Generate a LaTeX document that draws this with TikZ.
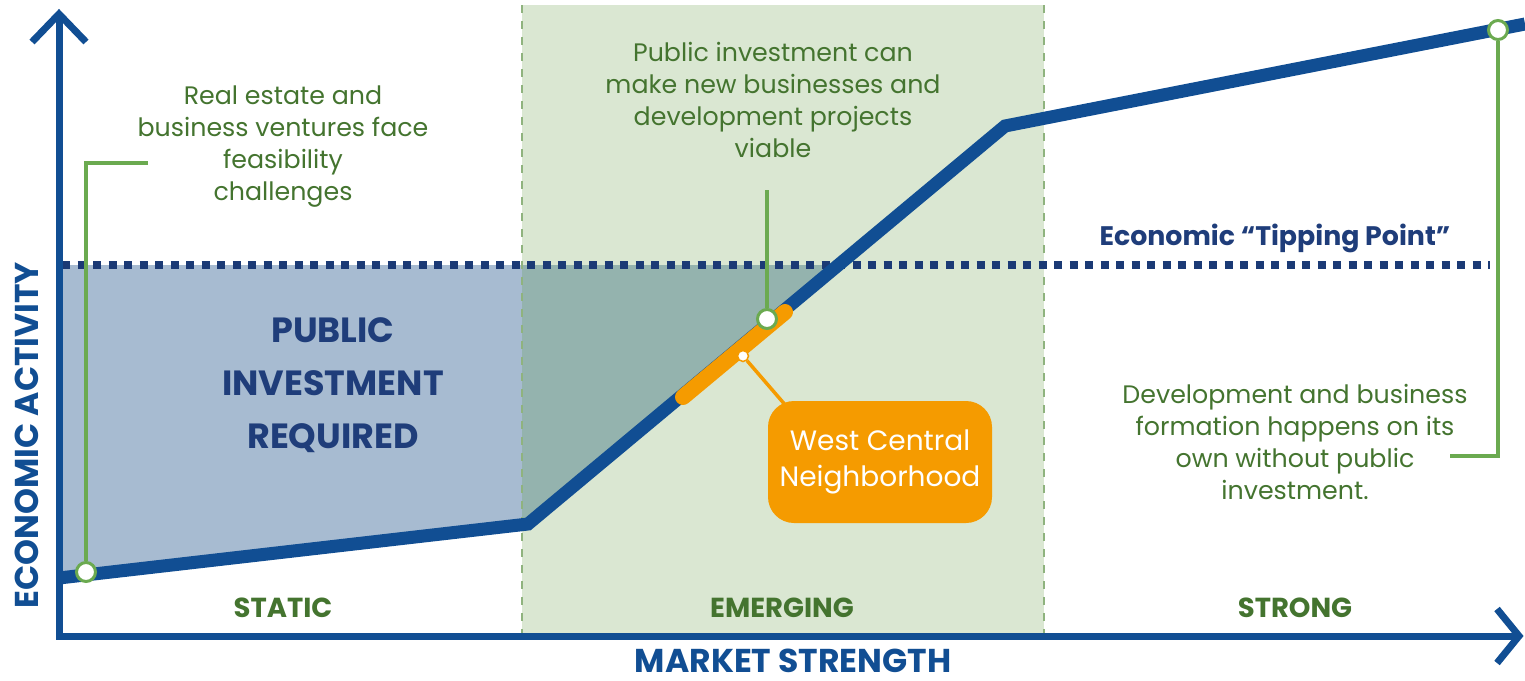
\documentclass[tikz,border=0pt]{standalone}
\usepackage{fontspec}
\setmainfont{Poppins}
\usetikzlibrary{calc}

\definecolor{axisblue}{HTML}{114E93}
\definecolor{navy}{HTML}{1F3D7A}
\definecolor{dotnavy}{HTML}{1B3A75}
\definecolor{darkgreen}{HTML}{44742F}
\definecolor{linkgreen}{HTML}{6BAA50}
\definecolor{zonegreen}{HTML}{DAE7D2}
\definecolor{zoneedge}{HTML}{8FB37E}
\definecolor{shadeblue}{HTML}{A7BBD1}
\definecolor{shadeteal}{HTML}{94B3AE}
\definecolor{hoodorange}{HTML}{F59B00}

\tikzset{
  axisline/.style={draw=axisblue, line width=7pt, line join=miter},
  curveline/.style={draw=axisblue, line width=13pt, line join=miter},
  zoneedge/.style={draw=zoneedge, line width=1.5pt, dash pattern=on 8pt off 8pt},
  tipline/.style={draw=dotnavy, line width=8pt, dash pattern=on 8pt off 7.5pt},
  link/.style={draw=linkgreen, line width=4pt},
  dotmark/.style={circle, draw=linkgreen, line width=3pt, fill=white, minimum size=19pt, inner sep=0pt},
  calloutnote/.style={text=darkgreen, align=center, font=\fontsize{25.3}{32}\selectfont},
  zonelabel/.style={text=darkgreen, font=\bfseries\fontsize{27.5}{30}\selectfont},
  axislabel/.style={text=axisblue, font=\bfseries\fontsize{33}{36}\selectfont, inner sep=1pt},
}

\begin{document}
\begin{tikzpicture}[x=1pt,y=-1pt]
\useasboundingbox (0,0) rectangle (1525,680);

% emerging market band
\fill[zonegreen] (522,5) rectangle (1044,636);

% curve corners
\coordinate (c0) at (59,578);
\coordinate (c1) at (528,524);
\coordinate (c2) at (1005,126);
\coordinate (c3) at (1525,24);
\coordinate (tipL) at (59,265);
\coordinate (tipX) at (838.4,265);

% area below the tipping point and above the curve
\fill[shadeblue] (tipL) -- (tipX) -- (c1) -- (c0) -- cycle;
\begin{scope}
  \clip (522,5) rectangle (1044,636);
  \fill[shadeteal] (tipL) -- (tipX) -- (c1) -- (c0) -- cycle;
\end{scope}

% band borders
\draw[zoneedge] (522,5) -- (522,636);
\draw[zoneedge] (1044,5) -- (1044,636);

% tipping point line
\coordinate (tipA) at (62,265);
\coordinate (tipB) at (1490,265);
\draw[tipline] (tipA) -- (tipB);
\node[text=navy, font=\bfseries\fontsize{26.8}{30}\selectfont] (tiplabel) at (1275,238) {Economic “Tipping Point”};

% market curve
\draw[curveline] (c0) -- (c1) -- (c2) -- (c3);

% axes
\coordinate (ytop) at (59,14);
\coordinate (origin) at (59,636);
\coordinate (xend) at (1519,636);
\draw[axisline] (ytop) -- (origin) -- (xend);
\draw[axisline] (32,42) -- (ytop) -- (86,42);
\draw[axisline] (1497,609) -- (xend) -- (1497,663);

\node[axislabel, rotate=90] (ylabel) at (27,435) {ECONOMIC ACTIVITY};
\node[axislabel] (xlabel) at (793,661) {MARKET STRENGTH};

% zone names
\node[zonelabel] (static) at (283,608) {STATIC};
\node[zonelabel] (emerging) at (782,608) {EMERGING};
\node[zonelabel] (strong) at (1295,608) {STRONG};

\node[text=navy, align=center, font=\bfseries\fontsize{35}{53}\selectfont] (pir) at (333,385) {PUBLIC\\INVESTMENT\\REQUIRED};

% West Central marker
\coordinate (hoodA) at (683,397);
\coordinate (hoodB) at (785,312);
\draw[hoodorange, line width=16pt, line cap=round] (hoodA) -- (hoodB);
\node[fill=hoodorange, rounded corners=26pt, minimum width=224pt, minimum height=122pt, text=white, align=center, font=\fontsize{28}{36}\selectfont] (hood) at (880,462) {West Central\\Neighborhood};
\node[circle, fill=white, draw=hoodorange, line width=1.5pt, minimum size=11pt, inner sep=0pt] (hooddot) at (743,356) {};
\coordinate (hoodtip) at (787,407);
\draw[hoodorange, line width=3.5pt] (hooddot) -- (hoodtip);

% callout: static zone
\node[calloutnote] (noteL) at (283,147) {Real estate and\\business ventures face\\feasibility\\challenges};
\node[dotmark] (dotL) at (86,572) {};
\coordinate (elbowL) at (86,163);
\coordinate (endL) at (148,163);
\draw[link] (endL) -- (elbowL) -- (dotL);

% callout: emerging zone
\node[calloutnote] (noteM) at (773,100) {Public investment can\\make new businesses and\\development projects\\viable};
\node[dotmark] (dotM) at (767,319) {};
\coordinate (endM) at (767,190);
\draw[link] (endM) -- (dotM);

% callout: strong zone
\node[calloutnote] (noteR) at (1295,442) {Development and business\\formation happens on its\\own without public\\investment.};
\node[dotmark] (dotR) at (1498,30) {};
\coordinate (elbowR) at (1498,456);
\coordinate (endR) at (1450,456);
\draw[link] (endR) -- (elbowR) -- (dotR);
\end{tikzpicture}
\end{document}
